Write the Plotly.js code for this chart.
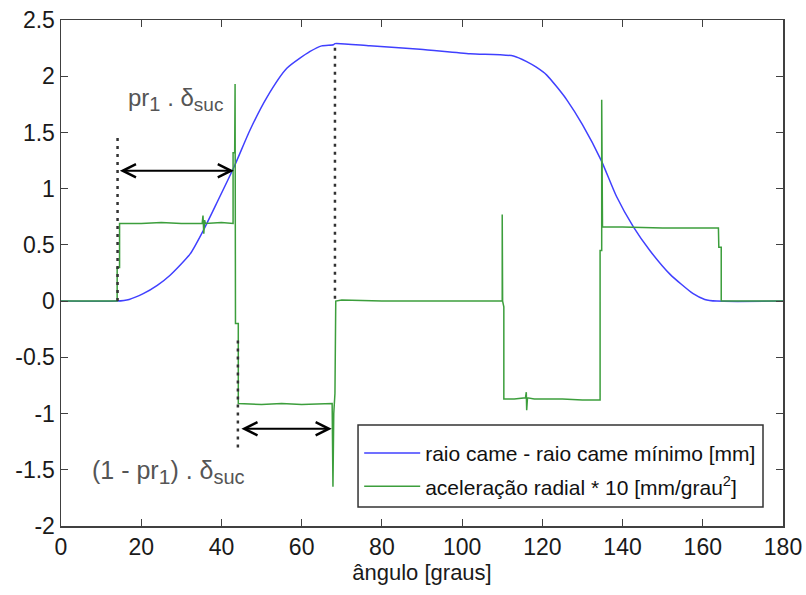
<!DOCTYPE html>
<html>
<head>
<meta charset="utf-8">
<script src="https://cdn.plot.ly/plotly-3.0.1.min.js"></script>
<style>html,body{margin:0;padding:0;background:#fff;}#chart{width:806px;height:595px;}</style>
</head>
<body>
<div id="chart"></div>
<script>
// ---- data ----
const raioX = [0, 13.9, 17, 20.5, 24, 27.2, 32.2, 35.5, 38.8, 43.1, 47.1, 51.3, 56.3, 62.1, 65, 67.9, 68.3, 77, 89.5, 102, 112.8, 116.1, 118.5, 121.1, 123.5, 126.1, 130, 134.7, 138.5, 142.7, 146.8, 151.8, 157.6, 160.5, 163.5, 180];
const raioY = [0, 0, 0.015, 0.066, 0.14, 0.23, 0.42, 0.63, 0.87, 1.19, 1.52, 1.81, 2.07, 2.22, 2.27, 2.28, 2.29, 2.27, 2.24, 2.20, 2.18, 2.13, 2.08, 2.01, 1.91, 1.79, 1.57, 1.25, 0.93, 0.66, 0.45, 0.24, 0.066, 0.015, 0, 0];

const acelX = [0, 14.0, 14.0, 14.6, 14.6, 20, 25, 30, 35.2, 35.4, 35.6, 35.8, 36, 40, 42.9, 42.9, 43.3, 43.4, 43.5, 44.2, 44.2, 50, 55, 60, 67.6, 67.8, 68.0, 68.3, 68.5, 70, 80, 90, 100, 110.0, 110.0, 110.05, 110.1, 110.4, 110.4, 113, 115.8, 116.0, 116.1, 116.3, 118, 125, 130, 134.4, 134.4, 134.8, 134.8, 134.9, 135.0, 140, 150, 160, 163.9, 164.0, 164.6, 164.6, 180];
const acelY = [0, 0, 0.30, 0.30, 0.69, 0.69, 0.70, 0.69, 0.69, 0.76, 0.60, 0.72, 0.69, 0.70, 0.69, 1.32, 1.32, 1.93, -0.20, -0.20, -0.91, -0.92, -0.91, -0.92, -0.91, -1.65, -1.00, -0.82, 0.0, 0.01, 0, 0, 0, 0, 0.77, 0.38, 0, -0.05, -0.87, -0.87, -0.86, -0.81, -0.97, -0.86, -0.87, -0.87, -0.88, -0.88, 0.45, 0.45, 1.79, 1.22, 0.66, 0.66, 0.65, 0.65, 0.65, 0.48, 0.48, 0, 0];

const xTickVals = [0, 20, 40, 60, 80, 100, 120, 140, 160, 180];
const yTickVals = [-2, -1.5, -1, -0.5, 0, 0.5, 1, 1.5, 2, 2.5];
const yTickText = ["-2", "-1.5", "-1", "-0.5", "0", "0.5", "1", "1.5", "2", "2.5"];

const nomeRaio = "raio came - raio came mínimo [mm]";
const nomeAcel = "aceleração radial * 10 [mm/grau<sup>2</sup>]";
const tituloX = "ângulo [graus]";
const rotulo1 = "pr<sub><span style=\"font-size:20px\">1</span></sub> . δ<sub><span style=\"font-size:19px\">suc</span></sub>";
const rotulo2 = "(1 - pr<sub><span style=\"font-size:21px\">1</span></sub>) . δ<sub><span style=\"font-size:20px\">suc</span></sub>";

// annotation geometry (data coordinates)
const dot1 = {x: 14.1, y0: 0, y1: 1.47};
const dot2 = {x: 68.3, y0: 0.02, y1: 2.28};
const dot3 = {x: 44.1, y0: -0.35, y1: -1.34};
const seta1 = {x0: 14.3, x1: 43.1, y: 1.16};
const seta2 = {x0: 44.6, x1: 67.5, y: -1.135};
const pos1 = {x: 28.6, y: 1.79};
const pos2 = {x: 26.7, y: -1.52};
// legend frame (paper coordinates)
const caixa = {x0: 0.4114, x1: 0.9723, y0: 0.0375, y1: 0.1996};

const FONT = "Liberation Sans, Arial, sans-serif";

const traces = [
  {x: raioX, y: raioY, type: "scatter", mode: "lines", name: nomeRaio, legendgroup: "a",
   line: {color: "#4040ff", width: 1.5, shape: "spline", smoothing: 0.6}},
  {x: acelX, y: acelY, type: "scatter", mode: "lines", name: nomeAcel, legendgroup: "b",
   line: {color: "#3c9e3c", width: 1.5}}
];

function dotted(d) {
  return {type: "line", xref: "x", yref: "y", x0: d.x, x1: d.x, y0: d.y0, y1: d.y1,
          line: {color: "#333", width: 2.5, dash: "3px,5px"}};
}
function arrow(s) {
  return {x: s.x1, y: s.y, ax: s.x0, ay: s.y, xref: "x", yref: "y", axref: "x", ayref: "y",
          text: "", showarrow: true, arrowside: "end+start", arrowhead: 5, startarrowhead: 5,
          arrowsize: 1.3, startarrowsize: 1.3, arrowwidth: 2, arrowcolor: "#000", standoff: 0, startstandoff: 0};
}

const axisCommon = {
  showgrid: false, zeroline: false, showline: true, mirror: "allticks",
  linecolor: "#404040", linewidth: 1.5, ticks: "inside", ticklen: 7, tickwidth: 1.2, tickcolor: "#404040",
  tickfont: {family: FONT, size: 23, color: "#1a1a1a"}
};

const layout = {
  width: 806, height: 595,
  margin: {l: 61, r: 23, t: 20, b: 69},
  paper_bgcolor: "#fff", plot_bgcolor: "#fff",
  font: {family: FONT, color: "#1a1a1a"},
  xaxis: Object.assign({}, axisCommon, {range: [0, 180], tickvals: xTickVals,
    title: {text: tituloX, font: {family: FONT, size: 22, color: "#1a1a1a"}, standoff: 4}}),
  yaxis: Object.assign({}, axisCommon, {range: [-2, 2.5], tickvals: yTickVals, ticktext: yTickText}),
  showlegend: true,
  legend: {x: 0.413, y: 0.184, xanchor: "left", yanchor: "top", bgcolor: "rgba(0,0,0,0)",
           borderwidth: 0, font: {family: FONT, size: 21, color: "#111"},
           tracegroupgap: 3, traceorder: "grouped", itemwidth: 56},
  shapes: [dotted(dot1), dotted(dot2), dotted(dot3),
    {type: "rect", xref: "paper", yref: "paper", x0: caixa.x0, x1: caixa.x1, y0: caixa.y0, y1: caixa.y1,
     fillcolor: "#fff", line: {color: "#333", width: 1.5}, layer: "above"}],
  annotations: [
    arrow(seta1), arrow(seta2),
    {x: pos1.x, y: pos1.y, xref: "x", yref: "y", text: rotulo1, showarrow: false,
     font: {family: FONT, size: 24, color: "#555"}},
    {x: pos2.x, y: pos2.y, xref: "x", yref: "y", text: rotulo2, showarrow: false,
     font: {family: FONT, size: 25, color: "#555"}}
  ]
};

Plotly.newPlot("chart", traces, layout, {displayModeBar: false, staticPlot: true});
</script>
</body>
</html>
